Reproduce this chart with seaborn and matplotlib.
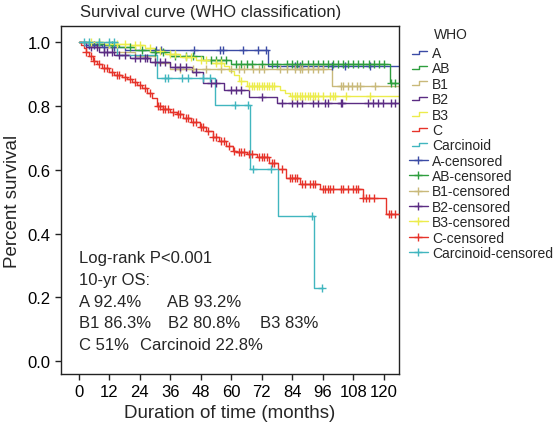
import numpy as np
import pandas as pd
import matplotlib
matplotlib.use("Agg")
import matplotlib.pyplot as plt
import seaborn as sns
from matplotlib.lines import Line2D
from matplotlib.legend_handler import HandlerBase

# ---------------- data ----------------
groups = ["A", "AB", "B1", "B2", "B3", "C", "Carcinoid"]
colors = ["#3b4ba5", "#2e9e3e", "#c9b97a", "#5b2c83", "#ecec4c", "#e6332a", "#41b6bf"]

A_t = [0, 3, 9, 18, 74.5]
A_s = [1.0, 0.992, 0.984, 0.976, 0.924]
A_end = 126
A_cens = [4, 6, 10, 14, 30.5, 32.5, 45.5, 55.5, 56.7, 64.5, 70.4, 73.5, 85, 87, 99.6, 104.7, 114.5]

AB_t = [0, 4, 10, 16, 22, 28, 36, 49, 60, 122.4]
AB_s = [1.0, 0.995, 0.99, 0.983, 0.976, 0.968, 0.956, 0.942, 0.932, 0.870]
AB_end = 126
AB_cens = [8, 13, 20, 25, 30, 33, 38, 42, 45, 52, 54, 56, 58, 62, 64, 66, 68, 72, 76, 78, 82,
           84, 86, 88, 90, 92, 94, 96, 98, 100, 102, 104, 106, 108, 110, 112, 114, 116, 118, 120,
           123, 124.6]

B1_t = [0, 6, 14, 22, 30, 36, 99.6]
B1_s = [1.0, 0.985, 0.97, 0.955, 0.935, 0.916, 0.863]
B1_end = 126
B1_cens = [40, 45, 50, 56, 60, 63, 65, 68.5, 71, 73, 79, 82, 85, 87, 88, 90, 92, 94, 96,
           103, 104, 106, 107.5, 109.5, 110.5, 116.5]

B2_t = [0, 3, 8, 14, 20, 28, 36, 44.5, 49, 57, 67, 78]
B2_s = [1.0, 0.985, 0.97, 0.96, 0.95, 0.9375, 0.923, 0.906, 0.872, 0.848, 0.828, 0.808]
B2_end = 126
B2_cens = [5, 7, 10, 11, 13, 16, 18, 22, 24, 26, 27, 30, 32, 34, 38, 40, 42, 46, 52, 54, 60,
           62, 64, 72, 80, 84, 86, 88, 92, 94, 97, 98, 103, 103.5, 113.7, 115.7, 117.6, 119.6,
           123, 124.4]

B3_t = [0, 10, 20, 26, 30, 34, 40, 46, 52, 57, 59, 61, 63, 66, 79, 81, 83]
B3_s = [1.0, 0.995, 0.99, 0.98, 0.972, 0.962, 0.952, 0.945, 0.935, 0.925, 0.91, 0.895,
        0.878, 0.862, 0.85, 0.84, 0.83]
B3_end = 126
B3_cens = [5, 8, 12, 15, 18, 22, 24, 28, 32, 36, 38, 42, 44, 48, 50, 54, 56, 64, 67, 68, 69,
           70, 71, 72, 73, 74, 75, 76, 77, 84, 85, 86, 87, 88, 89, 90, 91, 92, 93, 94, 96, 99,
           100, 101, 105, 114.5]

C_t = [0, 1, 2, 3, 4, 5.5, 7, 9, 12, 14, 17, 19, 21, 23, 25, 27, 29, 30.7, 33, 36, 38.5, 41,
       44, 47.6, 50, 52.8, 55, 58, 60.6, 62, 66, 70, 75, 78.3, 81.7, 87, 94.8, 111.7, 121]
C_s = [1.0, 0.99, 0.98, 0.97, 0.955, 0.94, 0.93, 0.918, 0.906, 0.898, 0.89, 0.884, 0.875,
       0.866, 0.855, 0.84, 0.825, 0.80, 0.79, 0.782, 0.775, 0.762, 0.748, 0.735, 0.72, 0.703,
       0.69, 0.675, 0.66, 0.656, 0.648, 0.64, 0.62, 0.603, 0.575, 0.556, 0.54, 0.51, 0.4625]
C_end = 126
C_cens = [3, 5, 6, 8, 10, 11, 13, 15, 16, 18, 20, 22, 24, 26, 28, 31, 32, 33, 34, 35, 37, 39,
          40, 42, 43, 45, 46, 48, 49, 51, 53, 54, 56, 57, 59, 61, 63, 64, 65, 67, 68, 71, 72,
          73, 74, 76, 77, 80, 83, 84, 85, 86, 88, 89, 91, 92, 93, 96, 97, 98, 99, 100, 103, 104,
          106, 108, 109, 110, 112, 113, 114, 116, 122, 123, 124.5]

Carc_t = [0, 15, 30.7, 53.5, 67.3, 78.5, 92.5]
Carc_s = [1.0, 0.96, 0.8875, 0.803, 0.603, 0.456, 0.228]
Carc_end = 96
Carc_cens = [2, 4, 8, 12, 14, 34, 35, 40.5, 43, 49, 51.5, 61.4, 66.5, 68.5, 75.6, 91.7, 95.7]

os_labels = ["Log-rank P<0.001", "10-yr OS:"]
os_rows = [[("A", "92.4%"), ("AB", "93.2%")],
           [("B1", "86.3%"), ("B2", "80.8%"), ("B3", "83%")],
           [("C", "51%"), ("Carcinoid", "22.8%")]]

x_ticks = [0, 12, 24, 36, 48, 60, 72, 84, 96, 108, 120]
y_ticks = [0.0, 0.2, 0.4, 0.6, 0.8, 1.0]

series = {
    "A": (A_t, A_s, A_end, A_cens),
    "AB": (AB_t, AB_s, AB_end, AB_cens),
    "B1": (B1_t, B1_s, B1_end, B1_cens),
    "B2": (B2_t, B2_s, B2_end, B2_cens),
    "B3": (B3_t, B3_s, B3_end, B3_cens),
    "C": (C_t, C_s, C_end, C_cens),
    "Carcinoid": (Carc_t, Carc_s, Carc_end, Carc_cens),
}

# ---------------- style ----------------
sns.set_style("ticks")
plt.rcParams["font.family"] = ["Liberation Sans", "DejaVu Sans"]
plt.rcParams["axes.linewidth"] = 1.0

fig = plt.figure(figsize=(5.54, 4.31), dpi=100)
ax = fig.add_axes([61 / 554, 1 - 375 / 431, 338 / 554, 348 / 431])

pal = dict(zip(groups, colors))
for g in groups:
    t, s, end, cens = series[g]
    line_df = pd.DataFrame({"time": list(t) + [end], "surv": list(s) + [s[-1]]})
    sns.lineplot(data=line_df, x="time", y="surv", color=pal[g], drawstyle="steps-post",
                 estimator=None, sort=False, lw=1.0, ax=ax)
    idx = np.searchsorted(np.array(t), np.array(cens), side="right") - 1
    cens_df = pd.DataFrame({"time": cens, "surv": np.array(s)[idx]})
    sns.scatterplot(data=cens_df, x="time", y="surv", marker="+", color=pal[g], s=34,
                    linewidth=1.0, ax=ax, zorder=3)

ax.set_xlim(-7, 126)
ax.set_ylim(-0.04, 1.05)
ax.set_xticks(x_ticks)
ax.set_yticks(y_ticks)
ax.set_yticklabels([f"{v:.1f}" for v in y_ticks])
ax.tick_params(axis="both", labelsize=12, length=4, width=1, colors="#222222", labelcolor="black")
for sp in ax.spines.values():
    sp.set_color("#222222")
    sp.set_linewidth(1.0)
ax.set_xlabel("Duration of time (months)", fontsize=13.5, labelpad=3)
ax.set_ylabel("Percent survival", fontsize=13.5, labelpad=5)

# annotation text
ann_y = [0.326, 0.255]
for lab, yv in zip(os_labels, ann_y):
    ax.text(0, yv, lab, fontsize=12, va="center", ha="left")
row_y = [0.186, 0.121, 0.052]
row_x = [[0, 34.6], [0, 35.0, 71.2], [0, 24.0]]
for row, yv, xs in zip(os_rows, row_y, row_x):
    for (name, val), xv in zip(row, xs):
        ax.text(xv, yv, f"{name} {val}", fontsize=12, va="center", ha="left")

fig.text(80 / 554, 1 - 12 / 431, "Survival curve (WHO classification)", fontsize=12,
         va="center", ha="left")

# legend
class StepHandler(HandlerBase):
    def create_artists(self, legend, orig_handle, xdescent, ydescent, width, height,
                       fontsize, trans):
        x0 = -xdescent + width * 0.15
        x1 = -xdescent + width * 0.95
        xm = (x0 + x1) / 2
        ylo = -ydescent + height * 0.3
        yhi = -ydescent + height * 0.65
        ln = Line2D([x0, xm, xm, x1], [ylo, ylo, yhi, yhi], color=orig_handle.get_color(),
                    lw=1.0, transform=trans)
        return [ln]

step_handles = [Line2D([], [], color=c) for c in colors]
cens_handles = [Line2D([], [], color=c, marker="+", markersize=5.5, lw=1.0) for c in colors]
labels = groups + [f"{g}-censored" for g in groups]
hmap = {h: StepHandler() for h in step_handles}
fig.legend(step_handles + cens_handles, labels, handler_map=hmap, loc="upper left",
           bbox_to_anchor=(409 / 554, 1 - 47 / 431), frameon=False, fontsize=10,
           handlelength=1.35, handletextpad=0.3, labelspacing=0.1, borderpad=0,
           borderaxespad=0)
fig.text(434 / 554, 1 - 35 / 431, "WHO", fontsize=10, va="center", ha="left")

fig.savefig("out.png", dpi=100)
